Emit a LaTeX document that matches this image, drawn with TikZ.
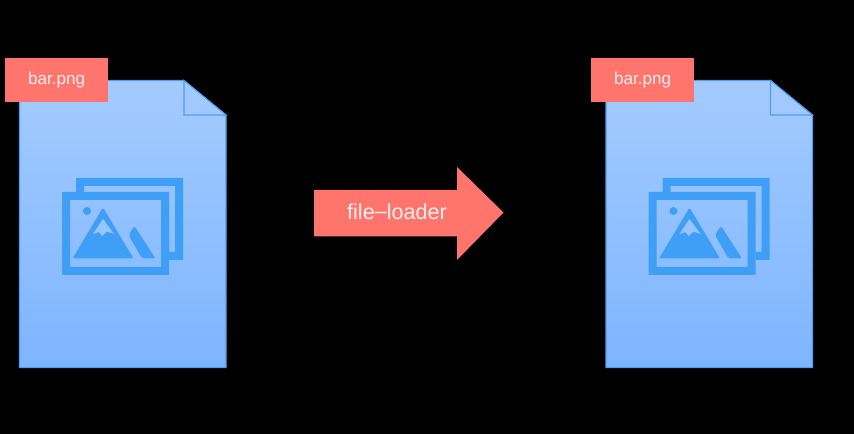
\documentclass[tikz,border=0pt]{standalone}
\usepackage{fontspec}
\setmainfont{Liberation Sans}
\definecolor{tagred}{HTML}{FF746C}
\definecolor{doctop}{HTML}{A4CBFF}
\definecolor{docbot}{HTML}{7DB5FF}
\definecolor{docedge}{HTML}{4F9FEE}
\definecolor{iconblue}{HTML}{3F9FF6}
\definecolor{labeltext}{HTML}{FFF0EC}
\tikzset{
  x=0.75pt,y=-0.75pt,
  docbody/.style={draw=docedge,line width=0.8pt,line join=miter,top color=doctop,bottom color=docbot,shading angle=0},
  foldline/.style={draw=docedge,line width=0.8pt},
  iconfill/.style={fill=iconblue,draw=none},
  tagbox/.style={draw=none,fill=tagred,minimum width=77.5pt,minimum height=33pt,inner sep=0pt,text=labeltext,font=\fontsize{12.8}{15}\selectfont},
  arrowlabel/.style={text=labeltext,font=\fontsize{16.2}{18}\selectfont,inner sep=0pt},
  filedoc/.pic={
    \path[docbody] (19.5,80.5) -- (184,80.5) -- (226,115) -- (226,367.5) -- (19.5,367.5) -- cycle;
    \path[fill=doctop!92!docbot] (184,80.5) -- (226,115) -- (184,115) -- cycle;
    \draw[foldline] (184,80.5) -- (184,115) -- (226,115) -- cycle;
    \path[iconfill] (76,192) -- (76,178) -- (183,178) -- (183,260) -- (169,260) -- (169,252) -- (175,252) -- (175,186) -- (84,186) -- (84,192) -- cycle;
    \path[iconfill,even odd rule] (62,192) rectangle (169,275) (70,200) rectangle (161,267);
    \path[iconfill] (87,211) circle[radius=3pt];
    \path[iconfill,rounded corners=1.2pt] (103,207.5) -- (133.5,258.5) -- (72.5,258.5) -- cycle;
    \path[fill=doctop!70!docbot] (103,219) -- (93,234) -- (99,232) -- (102,236) -- (107,231.5) -- (114,234) -- cycle;
    \path[iconfill,rounded corners=1.5pt] (134.5,226) -- (128.5,235) -- (142,258.5) -- (155.5,258.5) -- cycle;
  }
}
\begin{document}
\begin{tikzpicture}
\useasboundingbox[fill=black] (0,0) rectangle (854,434);
\pic at (0,0) {filedoc};
\pic at (586.5,0) {filedoc};
\node[tagbox] (tagA) at (56.7,80) {bar.png};
\node[tagbox] (tagB) at (642.7,80) {bar.png};
\path[fill=tagred] (314,190) -- (457,190) -- (457,167) -- (503.5,212.5) -- (457,260) -- (457,236.5) -- (314,236.5) -- cycle;
\node[arrowlabel] (loader) at (397,212) {file\raisebox{0.1ex}{–}loader};
\end{tikzpicture}
\end{document}
